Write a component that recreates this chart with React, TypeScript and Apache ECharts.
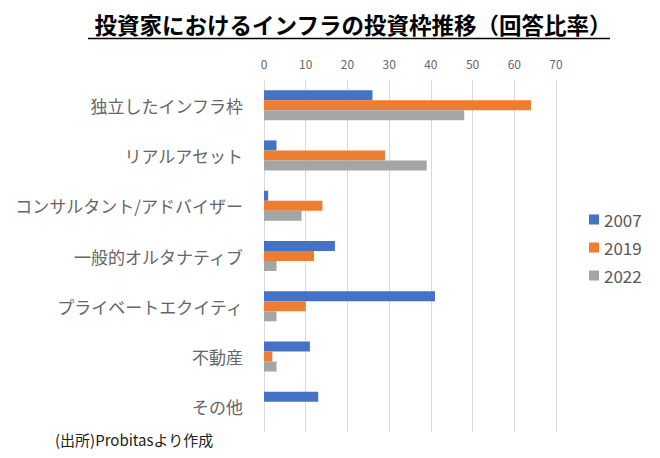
import React, { useEffect, useRef } from "react";
import * as echarts from "echarts";

const categories = [
  "独立したインフラ枠",
  "リアルアセット",
  "コンサルタント/アドバイザー",
  "一般的オルタナティブ",
  "プライベートエクイティ",
  "不動産",
  "その他",
];
const seriesNames = ["2007", "2019", "2022"];
const values2007 = [26, 3, 1, 17, 41, 11, 13];
const values2019 = [64, 29, 14, 12, 10, 2, 0];
const values2022 = [48, 39, 9, 3, 3, 3, 0];
const colors = ["#4472C4", "#ED7D31", "#A5A5A5"];

const FONT = "'Noto Sans CJK JP', 'Noto Sans', sans-serif";

export default function App() {
  const ref = useRef<HTMLDivElement>(null);
  useEffect(() => {
    if (!ref.current) return;
    const chart = echarts.init(ref.current, null, { renderer: "svg" });
    const data = [values2007, values2019, values2022];
    chart.setOption({
      animation: false,
      backgroundColor: "#ffffff",
      textStyle: { fontFamily: FONT },
      title: {
        text: "投資家におけるインフラの投資枠推移（回答比率）",
        left: 348,
        top: 8,
        textAlign: "center",
        textStyle: { fontSize: 22.5, fontWeight: "bold", color: "#000000", fontFamily: FONT },
      },
      graphic: [
        {
          type: "line",
          shape: { x1: 88, y1: 38.5, x2: 610, y2: 38.5 },
          style: { stroke: "#000000", lineWidth: 1.5 },
        },
        {
          type: "text",
          left: 55,
          top: 432,
          style: { text: "(出所)Probitasより作成", fontSize: 15, fill: "#222222", fontFamily: FONT },
        },
      ],
      legend: {
        orient: "vertical",
        left: 584,
        top: 206,
        itemWidth: 10,
        itemHeight: 10,
        itemGap: 11,
        icon: "rect",
        data: seriesNames,
        textStyle: { fontSize: 17, color: "#595959", fontFamily: FONT },
      },
      grid: { left: 264, right: 104, top: 80, bottom: 26, containLabel: false },
      xAxis: {
        type: "value",
        position: "top",
        min: 0,
        max: 70,
        interval: 10,
        axisLine: { show: false },
        axisTick: { show: false },
        splitLine: { lineStyle: { color: "#d9d9d9", width: 1 } },
        axisLabel: { fontSize: 12, color: "#666666", margin: 11, fontFamily: FONT },
      },
      yAxis: {
        type: "category",
        inverse: true,
        data: categories,
        axisLine: { show: false },
        axisTick: { show: false },
        axisLabel: { fontSize: 17, color: "#666666", margin: 21, fontFamily: FONT },
      },
      series: seriesNames.map((name, i) => ({
        name,
        type: "bar",
        data: data[i],
        barWidth: 10,
        barGap: "0%",
        itemStyle: { color: colors[i] },
      })),
    });
    return () => chart.dispose();
  }, []);
  return <div ref={ref} style={{ width: 660, height: 458, margin: -8 }} />;
}
